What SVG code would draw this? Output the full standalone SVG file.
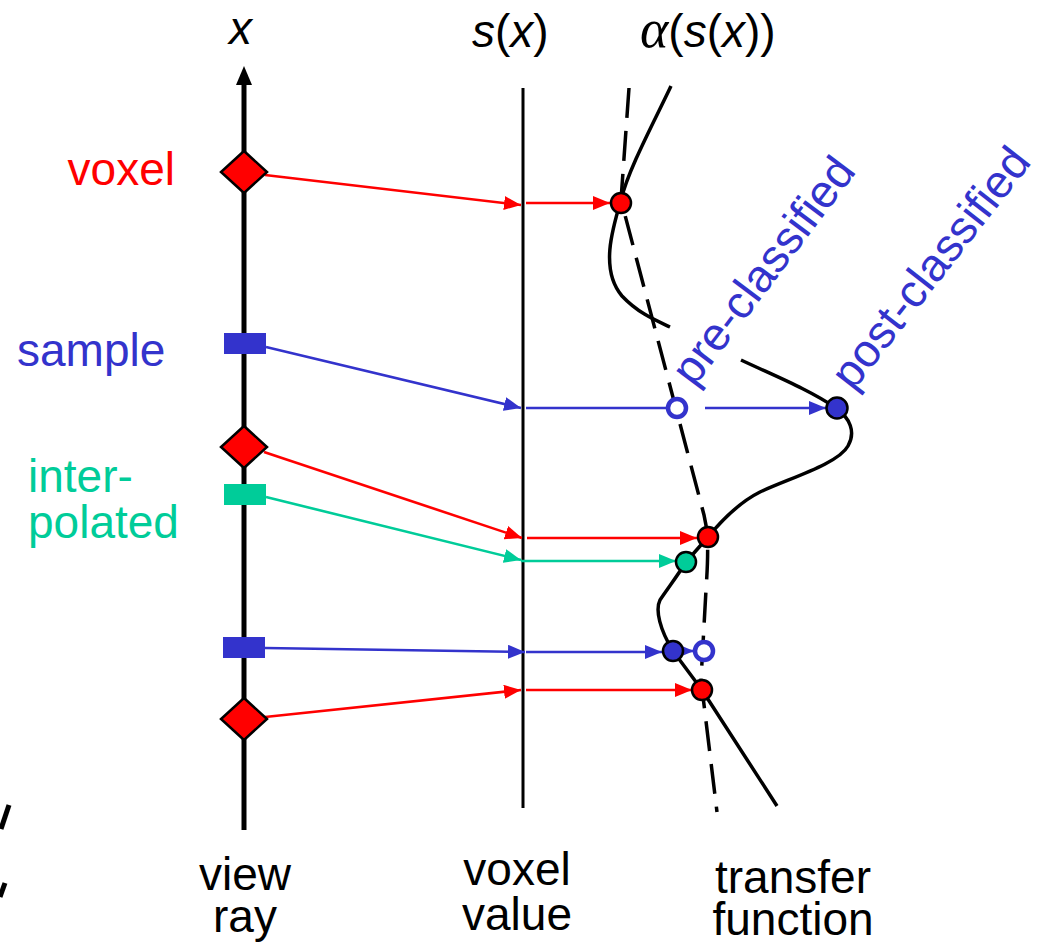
<svg xmlns="http://www.w3.org/2000/svg" width="1044" height="945" viewBox="0 0 1044 945">
<style>
text{font-family:"Liberation Sans",Arial,sans-serif;font-size:46px}
.it{font-style:italic}
.red{fill:#ff0000}.blue{fill:#3333cc}.green{fill:#00cc99}
.cr{stroke:#ff0000;stroke-width:2.6;fill:none}
.cb{stroke:#3333cc;stroke-width:2.6;fill:none}
.cg{stroke:#00cc99;stroke-width:2.6;fill:none}
.dot{stroke:#000;stroke-width:2.5}
.open{fill:#fff;stroke:#3333cc;stroke-width:4.5}
.curve{fill:none;stroke:#000;stroke-width:3.5;stroke-linejoin:round}
</style>
<defs>
<marker id="ar" markerUnits="userSpaceOnUse" markerWidth="17" markerHeight="14" refX="17" refY="7" orient="auto"><path d="M0,0 L17,7 L0,14 z" fill="#ff0000"/></marker>
<marker id="ab" markerUnits="userSpaceOnUse" markerWidth="17" markerHeight="14" refX="17" refY="7" orient="auto"><path d="M0,0 L17,7 L0,14 z" fill="#3333cc"/></marker>
<marker id="ag" markerUnits="userSpaceOnUse" markerWidth="17" markerHeight="14" refX="17" refY="7" orient="auto"><path d="M0,0 L17,7 L0,14 z" fill="#00cc99"/></marker>
</defs>
<rect width="1044" height="945" fill="#fff"/>

<g id="axes">
<line x1="244" y1="830" x2="244" y2="82" stroke="#000" stroke-width="5"/>
<path d="M244,66 L252,85 L236,85 z" fill="#000"/>
<line x1="523" y1="88" x2="523" y2="808" stroke="#000" stroke-width="3"/>
<path d="M629,88 L621,200 L704,515 C709,535 708,560 706,590 L701,680 L717,812" fill="none" stroke="#000" stroke-width="3.5" stroke-dasharray="30 13"/>
</g>

<g id="transfer-curve">
<path class="curve" d="M671,86 C655,120 628,170 621,200 C612,230 600,270 622,296 C638,313 655,320 670,327"/>
<path class="curve" d="M741,360 C775,376 810,390 836,408 C850,418 856,432 848,446 C838,464 790,478 760,492 C738,503 722,520 708,537 L686,562 C678,575 668,588 660,600 C655,610 660,630 673,651 L702,690 L777,806"/>
</g>

<g id="connectors">
<line class="cr" x1="265" y1="175" x2="521" y2="205" marker-end="url(#ar)"/>
<line class="cr" x1="526" y1="203" x2="610" y2="203" marker-end="url(#ar)"/>
<line class="cb" x1="266" y1="347" x2="521" y2="408" marker-end="url(#ab)"/>
<line class="cb" x1="526" y1="408" x2="666" y2="408"/>
<line class="cb" x1="705" y1="408" x2="826" y2="408" marker-end="url(#ab)"/>
<line class="cr" x1="264" y1="452" x2="522" y2="538" marker-end="url(#ar)"/>
<line class="cr" x1="527" y1="538" x2="697" y2="538" marker-end="url(#ar)"/>
<line class="cg" x1="266" y1="497" x2="521" y2="560" marker-end="url(#ag)"/>
<line class="cg" x1="521" y1="561" x2="676" y2="561" marker-end="url(#ag)"/>
<line class="cb" x1="265" y1="648" x2="525" y2="652" marker-end="url(#ab)"/>
<line class="cb" x1="526" y1="652" x2="662" y2="652" marker-end="url(#ab)"/>
<line class="cb" x1="678" y1="651" x2="694" y2="651" marker-end="url(#ab)"/>
<line class="cr" x1="265" y1="717" x2="521" y2="690" marker-end="url(#ar)"/>
<line class="cr" x1="526" y1="690" x2="692" y2="690" marker-end="url(#ar)"/>
</g>

<g id="voxel1"><path d="M244,151 L267,172 L244,193 L221,172 z" class="red dot"/></g>
<g id="sample1"><rect x="224" y="333" width="42" height="21" class="blue"/></g>
<g id="voxel2"><path d="M244,426 L267,447 L244,468 L221,447 z" class="red dot"/></g>
<g id="interp1"><rect x="224" y="484" width="42" height="21" class="green"/></g>
<g id="sample2"><rect x="223" y="637" width="42" height="21" class="blue"/></g>
<g id="voxel3"><path d="M244,698 L267,719 L244,740 L221,719 z" class="red dot"/></g>

<g id="points">
<circle cx="621" cy="203" r="10" class="red dot"/>
<circle cx="677" cy="408" r="9" class="open"/>
<circle cx="837" cy="408" r="10.5" class="blue dot"/>
<circle cx="708" cy="537" r="10" class="red dot"/>
<circle cx="686" cy="562" r="10" class="green dot"/>
<circle cx="673" cy="651" r="10" class="blue dot"/>
<circle cx="704" cy="651" r="9" class="open"/>
<circle cx="702" cy="690" r="10" class="red dot"/>
</g>

<g id="labels">
<text x="229" y="44" class="it">x</text>
<text x="472" y="47"><tspan class="it">s</tspan>(<tspan class="it">x</tspan>)</text>
<text x="640" y="47"><tspan class="it" style="font-family:'Liberation Serif',serif;font-size:54px">α</tspan>(<tspan class="it">s</tspan>(<tspan class="it">x</tspan>))</text>
<text x="175" y="185" text-anchor="end" class="red">voxel</text>
<text x="17" y="366" class="blue">sample</text>
<text x="28" y="492" class="green">inter-</text>
<text x="28" y="538" class="green">polated</text>
<text x="245" y="890" text-anchor="middle">view</text>
<text x="245" y="932" text-anchor="middle">ray</text>
<text x="517" y="885" text-anchor="middle">voxel</text>
<text x="517" y="930" text-anchor="middle">value</text>
<text x="793" y="893" text-anchor="middle">transfer</text>
<text x="793" y="935" text-anchor="middle">function</text>
<text transform="translate(694,388) rotate(-53)" class="blue" style="font-size:46px">pre-classified</text>
<text transform="translate(853,392) rotate(-52)" class="blue" style="font-size:46px">post-classified</text>
</g>

<g id="edge-marks" stroke="#000" stroke-width="5">
<line x1="9" y1="805" x2="1" y2="829"/>
<line x1="5" y1="883" x2="0" y2="897"/>
</g>
</svg>
